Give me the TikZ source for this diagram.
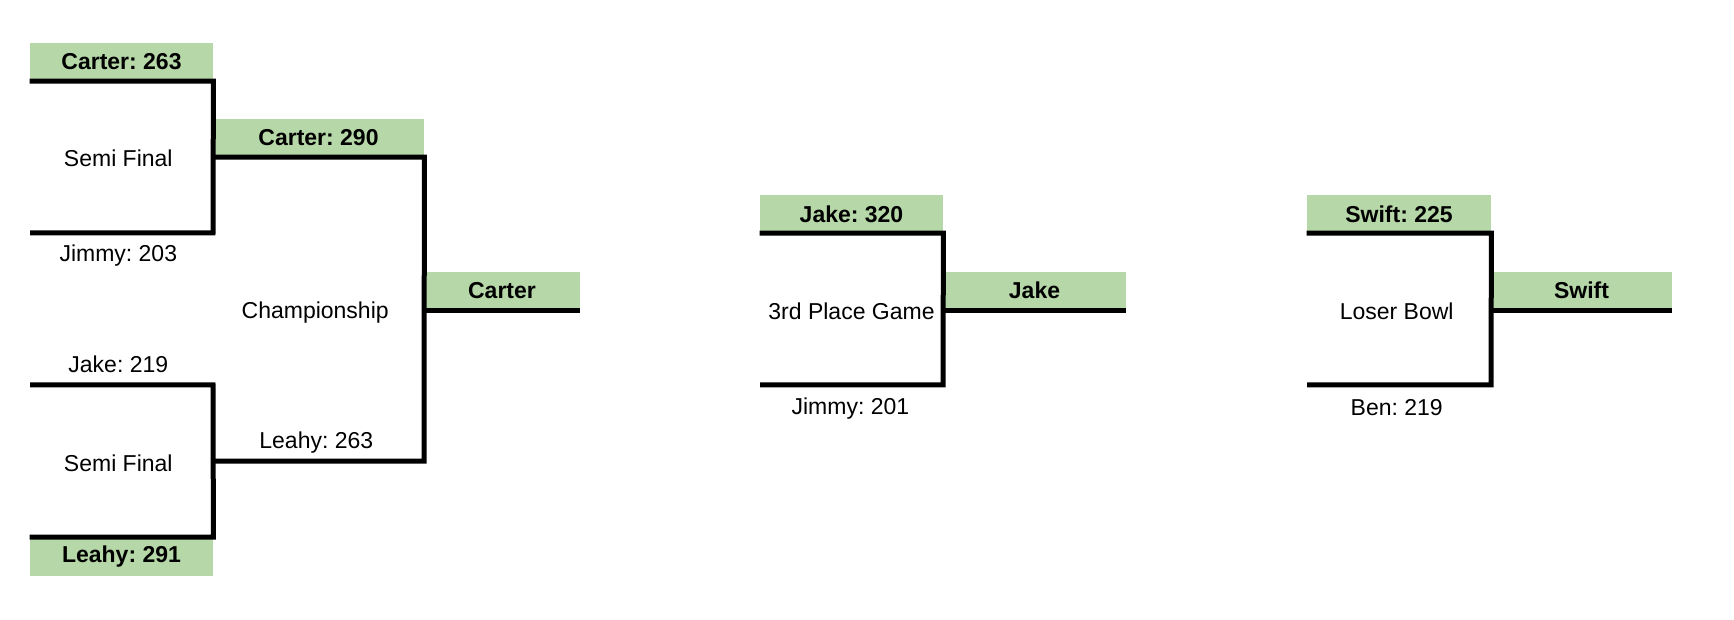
\documentclass[tikz,border=0pt]{standalone}
\usepackage{fontspec}
\setmainfont{Liberation Sans}
\frenchspacing
\definecolor{boxgreen}{HTML}{B6D7A8}
\begin{document}
\begin{tikzpicture}[x=0.5pt,y=-0.5pt,
  win/.style={fill=boxgreen, minimum width=#1, minimum height=19pt, inner sep=0pt,
    font=\bfseries\fontsize{11.5}{13}\selectfont},
  lbl/.style={font=\fontsize{11.5}{13}\selectfont, inner sep=0pt},
  bracket/.style={line width=2.5pt, line join=miter, line cap=butt}]
\useasboundingbox (0,0) rectangle (1734,620);
% winner boxes
\node[win=91.5pt] (w1) at (121.5,61.8) {Carter: 263};
\node[win=105.5pt] (w2) at (318.5,137.8) {Carter: 290};
\node[win=78pt] (w3) at (502,290.6) {Carter};
\node[win=91.5pt] (w4) at (121.5,556.5) {Leahy: 291};
\node[win=91.5pt] (w5) at (851.5,213.8) {Jake: 320};
\node[win=91.5pt] (w6) at (1034.5,290.6) {Jake};
\node[win=92pt] (w7) at (1399,213.8) {Swift: 225};
\node[win=90.5pt] (w8) at (1581.5,290.6) {Swift};
% labels
\node[lbl] (sf1) at (118.3,158.6) {Semi Final};
\node[lbl] (j203) at (118.3,255.4) {Jimmy: 203};
\node[lbl] (champ) at (315.2,312.5) {Championship};
\node[lbl] (j219) at (118.3,363.8) {Jake: 219};
\node[lbl] (sf2) at (118.3,462.8) {Semi Final};
\node[lbl] (l263) at (316.3,442.3) {Leahy: 263};
\node[lbl] (third) at (851.5,311.5) {3rd Place Game};
\node[lbl] (j201) at (850.4,409) {Jimmy: 201};
\node[lbl] (loser) at (1396.7,311.5) {Loser Bowl};
\node[lbl] (b219) at (1396.7,408) {Ben: 219};
% coordinates
\coordinate (j203l) at (30,232.8);
\coordinate (j203r) at (213,232.8);
\coordinate (j219l) at (30,384.8);
\coordinate (j219r) at (213,384.8);
\coordinate (l263l) at (213,461);
\coordinate (l263r) at (424,461);
\coordinate (j201l) at (760,384.8);
\coordinate (j201r) at (943,384.8);
\coordinate (b219l) at (1307,384.8);
\coordinate (b219r) at (1491,384.8);
% brackets
\draw[bracket] (w1.south west) -- (w1.south east) -- (j203r) -- (j203l);
\draw[bracket] (j219l) -- (j219r) -- (w4.north east) -- (w4.north west);
\draw[bracket] (w2.south west) -- (w2.south east) -- (l263r) -- (l263l);
\draw[bracket] (w3.south west) -- (w3.south east);
\draw[bracket] (w5.south west) -- (w5.south east) -- (j201r) -- (j201l);
\draw[bracket] (w6.south west) -- (w6.south east);
\draw[bracket] (w7.south west) -- (w7.south east) -- (b219r) -- (b219l);
\draw[bracket] (w8.south west) -- (w8.south east);
\end{tikzpicture}
\end{document}
